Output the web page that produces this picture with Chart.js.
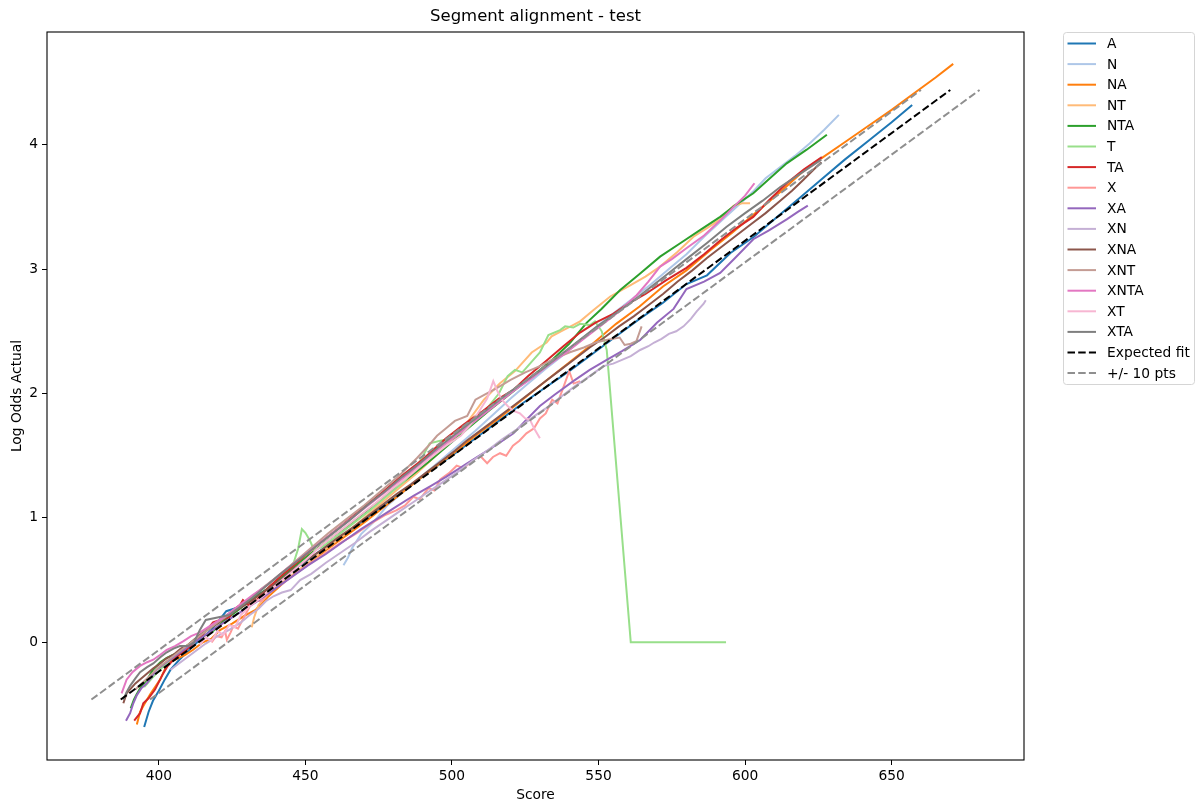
<!DOCTYPE html>
<html>
<head>
<meta charset="utf-8">
<script src="https://cdn.jsdelivr.net/npm/chart.js"></script>
<style>
  html, body { margin: 0; padding: 0; background: #fff; }
  #wrap { width: 1200px; height: 807px; }
</style>
</head>
<body>
<div id="wrap"><canvas id="segChart" width="1200" height="807"></canvas></div>
<script>
// ---------------------------- data ---------------------------- //
const xTicks = [400, 450, 500, 550, 600, 650];
const yTicks = [0, 1, 2, 3, 4];

const seriesNames = ['A', 'N', 'NA', 'NT', 'NTA', 'T', 'TA', 'X', 'XA', 'XN', 'XNA', 'XNT', 'XNTA', 'XT', 'XTA'];

// [score, log odds]
const A = [[395,-0.68],[396.5,-0.56],[398,-0.47],[400,-0.39],[402,-0.30],[404,-0.22],[407,-0.14],[410,-0.07],[414,0.02],[418,0.10],[423,0.25],[427,0.28],[432,0.36],[438,0.44],[444,0.55],[450,0.65],[457,0.77],[464,0.88],[471,1.00],[478,1.12],[485,1.24],[492,1.37],[500,1.50],[508,1.64],[516,1.78],[524,1.92],[532,2.05],[540,2.18],[548,2.32],[556,2.46],[564,2.60],[572,2.73],[580,2.88],[587,2.95],[595,3.13],[603,3.26],[611,3.42],[618,3.56],[626,3.72],[634,3.88],[642,4.03],[650,4.18],[657,4.32]];
const N = [[463,0.62],[464.5,0.68],[466,0.76],[469,0.87],[473,0.96],[478,1.10],[484,1.22],[490,1.34],[496,1.46],[502,1.58],[508,1.70],[514,1.83],[520,1.96],[526,2.08],[532,2.20],[538,2.31],[544,2.43],[550,2.55],[556,2.66],[562,2.77],[568,2.88],[574,3.00],[580,3.12],[586,3.26],[592,3.39],[598,3.52],[603,3.63],[607,3.73],[612,3.82],[617,3.91],[622,4.01],[627,4.12],[632,4.24]];
const NA = [[392.5,-0.66],[393.6,-0.56],[395,-0.50],[397,-0.42],[399,-0.35],[400.4,-0.30],[402,-0.22],[403.8,-0.16],[405.5,-0.14],[407.2,-0.12],[409,-0.10],[411.7,-0.06],[415,0.00],[418,0.03],[421,0.10],[425,0.15],[429,0.21],[433,0.26],[437,0.36],[443.6,0.50],[450,0.61],[457,0.74],[464,0.86],[471,0.98],[478,1.11],[485,1.24],[492,1.37],[500,1.51],[508,1.66],[516,1.80],[524,1.95],[532,2.10],[540,2.25],[548,2.40],[556,2.56],[564,2.70],[572,2.86],[580,2.99],[588,3.15],[596,3.30],[604,3.46],[612,3.62],[620,3.79],[626,3.89],[634,4.02],[642,4.15],[650,4.28],[658,4.42],[665,4.54],[671,4.65]];
const NT = [[431.7,0.12],[432.5,0.20],[434,0.30],[437,0.38],[441,0.46],[446,0.55],[452,0.66],[458,0.77],[464,0.88],[470,1.00],[476,1.12],[482,1.24],[488,1.36],[494,1.49],[500,1.62],[505,1.76],[510.9,1.95],[516.3,2.08],[521.5,2.18],[527.2,2.33],[532.3,2.41],[534,2.46],[538,2.51],[541.3,2.55],[543.7,2.58],[548.2,2.67],[554,2.78],[560.8,2.87],[566,2.94],[571,3.02],[577,3.14],[582.4,3.26],[587,3.33],[591.5,3.40],[596.1,3.51],[599,3.53],[601.7,3.53]];
const NTA = [[390.4,-0.53],[391.5,-0.46],[392.4,-0.42],[394.1,-0.35],[396,-0.30],[398,-0.22],[400.5,-0.16],[402.7,-0.125],[405,-0.10],[407.2,-0.08],[410,-0.03],[412.9,0.02],[415.5,0.05],[418.5,0.09],[422,0.17],[426,0.24],[431,0.33],[437,0.43],[443,0.55],[450,0.68],[457,0.81],[464,0.93],[471,1.06],[478,1.19],[485,1.32],[492,1.45],[499,1.59],[506,1.73],[513,1.87],[520,2.00],[527,2.13],[534.6,2.28],[540,2.40],[546,2.57],[551,2.68],[557.3,2.83],[564,2.96],[571,3.10],[578,3.21],[585,3.32],[591.5,3.42],[597,3.52],[602.8,3.61],[608,3.72],[614.2,3.85],[621,3.96],[627.9,4.08]];
const T = [[395,-0.36],[398,-0.28],[402,-0.18],[406,-0.10],[410,-0.02],[415,0.08],[420,0.16],[426,0.27],[432,0.37],[438,0.48],[443,0.57],[446,0.64],[447.5,0.75],[448.8,0.91],[450,0.88],[451.5,0.82],[453,0.74],[456,0.77],[460,0.84],[466,0.95],[472,1.06],[478,1.18],[484,1.30],[489,1.45],[492.4,1.60],[496,1.62],[500,1.64],[504,1.70],[508,1.78],[512,1.88],[516,2.00],[519,2.14],[521.5,2.19],[524,2.17],[527,2.25],[530,2.33],[532.9,2.47],[536.9,2.51],[538.6,2.54],[541.4,2.53],[543.7,2.56],[547.1,2.55],[548.8,2.58],[551.1,2.50],[552.8,2.35],[561,0.0],[570,0.0],[582,0.0],[593.5,0.0]];
const TA = [[391.6,-0.63],[393.6,-0.57],[394.7,-0.49],[396.5,-0.45],[398.7,-0.38],[401.5,-0.25],[403,-0.19],[405,-0.14],[407,-0.10],[409.5,-0.06],[412,0.00],[415,0.06],[418.5,0.16],[421,0.18],[424,0.20],[426,0.27],[427.7,0.30],[428.7,0.34],[430.5,0.30],[433,0.33],[437,0.43],[442,0.54],[448,0.66],[455,0.80],[462,0.93],[469,1.07],[476,1.20],[483,1.34],[490,1.47],[498,1.64],[504,1.75],[510,1.85],[516,1.96],[521,2.03],[526,2.14],[532,2.26],[538,2.38],[543.7,2.49],[549,2.57],[555,2.64],[560,2.72],[566,2.80],[573,2.91],[580,3.01],[586,3.12],[591.5,3.23],[597,3.33],[602.8,3.42],[608,3.55],[614.2,3.69],[620,3.80],[626.2,3.90]];
const X = [[418,0.00],[419.5,0.05],[421.4,0.04],[422.6,0.09],[423.2,0.02],[424.5,0.08],[425.4,0.13],[427,0.11],[429,0.20],[432.2,0.34],[435,0.33],[438,0.41],[442,0.47],[447,0.56],[452,0.64],[457,0.72],[462,0.80],[467,0.87],[472,0.95],[477,1.02],[481,1.06],[484,1.10],[486.8,1.17],[489,1.15],[492,1.24],[494,1.22],[496,1.31],[499,1.36],[501.6,1.42],[504,1.40],[507,1.46],[509.6,1.50],[512,1.44],[514,1.49],[516.4,1.52],[518.5,1.50],[520.8,1.58],[523,1.62],[525.4,1.68],[528,1.72],[530,1.80],[532,1.84],[534.2,1.95],[536,1.92],[538,2.05],[540,2.18],[541.5,2.08],[543.7,2.10]];
const XA = [[388.8,-0.63],[390.2,-0.57],[391.3,-0.49],[392.4,-0.43],[394,-0.37],[395.9,-0.33],[397.5,-0.28],[399.3,-0.22],[402,-0.17],[405,-0.12],[408,-0.07],[412,0.00],[416,0.06],[421,0.14],[427.7,0.24],[433,0.32],[439,0.42],[445,0.52],[451,0.62],[457,0.71],[463,0.81],[469,0.91],[475,1.00],[481,1.09],[487,1.18],[493,1.26],[498,1.33],[504,1.42],[508,1.48],[512,1.54],[516,1.60],[521,1.68],[525,1.78],[530,1.90],[535,1.99],[541.4,2.10],[547,2.19],[552.8,2.27],[558,2.34],[564.2,2.43],[570,2.57],[575.6,2.68],[580,2.84],[586,2.90],[591.5,2.97],[597,3.10],[602.8,3.24],[608,3.31],[614.2,3.40],[618,3.46],[621.4,3.51]];
const XN = [[404,-0.22],[408,-0.15],[412,-0.08],[416,-0.01],[420,0.05],[424,0.10],[428,0.16],[431,0.22],[434,0.27],[436.5,0.33],[439.1,0.37],[442,0.40],[445,0.42],[448.2,0.50],[452,0.55],[457,0.64],[462,0.72],[467,0.80],[472,0.89],[477,0.97],[482,1.05],[487,1.13],[492,1.21],[497,1.29],[502,1.37],[507,1.46],[512,1.54],[517,1.63],[522,1.71],[527,1.80],[532,1.88],[537,1.97],[542,2.06],[547,2.14],[551.6,2.22],[555,2.24],[558,2.27],[561,2.30],[564.2,2.35],[567,2.38],[569,2.41],[571.5,2.44],[574,2.48],[576.5,2.50],[579,2.54],[581.5,2.60],[583.5,2.66],[585.8,2.72],[586.6,2.75]];
const XNA = [[387.9,-0.49],[389,-0.41],[390.5,-0.37],[392,-0.33],[394,-0.29],[396,-0.25],[398,-0.21],[400,-0.18],[402.5,-0.13],[405,-0.10],[407.5,-0.05],[410,-0.02],[413,0.04],[416,0.09],[420,0.15],[424,0.22],[428,0.28],[432,0.34],[436,0.41],[441,0.49],[446,0.59],[451,0.67],[456,0.75],[461,0.84],[466,0.92],[471,1.01],[476,1.10],[481,1.19],[486,1.27],[491,1.36],[496,1.45],[501,1.54],[505,1.62],[509,1.69],[513,1.76],[518,1.85],[522,1.92],[527,2.01],[532,2.10],[537,2.19],[542,2.28],[547,2.37],[552,2.45],[557,2.54],[562,2.62],[567,2.71],[572,2.80],[577,2.90],[582,2.99],[587,3.09],[592,3.18],[597,3.27],[602,3.36],[607,3.45],[612,3.55],[616,3.63],[620,3.72],[623,3.79],[626,3.86]];
const XNT = [[392,-0.38],[396,-0.29],[400,-0.20],[405,-0.11],[410,-0.02],[415,0.07],[420,0.16],[425,0.24],[430,0.33],[435,0.43],[440,0.52],[446,0.64],[452,0.76],[458,0.88],[464,0.99],[470,1.10],[476,1.22],[482,1.34],[488,1.48],[492,1.58],[494.9,1.66],[498,1.72],[501,1.78],[505.2,1.82],[508,1.95],[511,1.99],[515,2.04],[520,2.11],[525,2.17],[530,2.22],[535,2.28],[540,2.33],[545,2.37],[549,2.41],[552.7,2.43],[557.2,2.45],[558.9,2.39],[561,2.40],[562.9,2.42],[564.7,2.54]];
const XNTA = [[387.3,-0.41],[389,-0.30],[391,-0.24],[393.6,-0.19],[396,-0.16],[398.1,-0.14],[400.5,-0.10],[402.7,-0.06],[405.5,-0.03],[408.4,0.01],[411,0.05],[414.1,0.08],[418,0.14],[422,0.20],[427,0.29],[432,0.38],[437,0.46],[443,0.58],[449,0.69],[455,0.80],[461,0.91],[467,1.02],[473,1.13],[479,1.24],[485,1.35],[491,1.47],[497,1.58],[503,1.69],[509,1.80],[515,1.91],[521,2.02],[527,2.12],[533,2.23],[539,2.33],[545,2.44],[551,2.55],[557,2.66],[563,2.79],[567,2.90],[571,3.02],[575,3.08],[580.1,3.17],[586,3.27],[591.5,3.39],[596.1,3.50],[600,3.59],[603.2,3.69]];
const XT = [[414,-0.02],[416,0.04],[418,0.01],[420,0.09],[422,0.06],[424,0.14],[426,0.12],[428,0.22],[431,0.29],[435,0.36],[440,0.46],[445,0.56],[450,0.66],[456,0.79],[462,0.90],[468,1.01],[474,1.12],[480,1.24],[486,1.35],[492,1.47],[498,1.58],[503,1.66],[506,1.74],[509.6,1.87],[512,1.96],[514.1,2.10],[515.5,2.02],[517,1.95],[519,1.90],[521,1.86],[523.2,1.84],[525,1.80],[526.6,1.79],[528,1.72],[530,1.64]];
const XTA = [[387.9,-0.46],[389,-0.40],[390.2,-0.35],[392,-0.29],[393.6,-0.24],[396,-0.20],[398.1,-0.17],[400.5,-0.12],[402.7,-0.08],[405,-0.05],[407.2,-0.03],[410,-0.03],[412,0.00],[414,0.10],[416,0.18],[420,0.20],[424,0.22],[428,0.29],[432,0.36],[436,0.44],[441,0.54],[447,0.65],[453,0.76],[459,0.87],[465,0.98],[471,1.10],[477,1.21],[483,1.33],[489,1.44],[495,1.56],[501,1.67],[507,1.78],[513,1.89],[519,2.00],[525,2.10],[531,2.20],[537,2.31],[543,2.42],[549,2.53],[555,2.63],[561,2.73],[567,2.84],[573,2.95],[580,3.08],[587,3.21],[593.7,3.34],[600,3.45],[606,3.55],[612,3.66],[619,3.77],[626,3.88]];

// reference lines
const fitLine = [[387, -0.46], [670, 4.44]];
const upperLine = [[377, -0.46], [660, 4.44]];
const lowerLine = [[397, -0.46], [680, 4.44]];

const seriesValues = [A, N, NA, NT, NTA, T, TA, X, XA, XN, XNA, XNT, XNTA, XT, XTA];

// tab20 palette
const seriesColors = ['#1f77b4', '#aec7e8', '#ff7f0e', '#ffbb78', '#2ca02c', '#98df8a', '#d62728',
    '#ff9896', '#9467bd', '#c5b0d5', '#8c564b', '#c49c94', '#e377c2', '#f7b6d2', '#7f7f7f'];

const FONT = '"DejaVu Sans", sans-serif';

// ---------------------------- datasets ---------------------------- //
const datasets = seriesValues.map((pts, i) => ({
    label: seriesNames[i],
    data: pts.map(p => ({ x: p[0], y: p[1] })),
    borderColor: seriesColors[i],
    borderWidth: 2,
    dash: []
}));
datasets.push({ label: 'Expected fit', data: fitLine.map(p => ({ x: p[0], y: p[1] })), borderColor: '#000000', borderWidth: 2, dash: [7.5, 3.2] });
datasets.push({ label: '+/- 10 pts', data: upperLine.map(p => ({ x: p[0], y: p[1] })), borderColor: '#8f8f8f', borderWidth: 2, dash: [7.5, 3.2] });
datasets.push({ label: '', data: lowerLine.map(p => ({ x: p[0], y: p[1] })), borderColor: '#8f8f8f', borderWidth: 2, dash: [7.5, 3.2] });

datasets.forEach((d, i) => {
    d.showLine = true;
    d.pointRadius = 0;
    d.borderDash = d.dash;
    d.tension = 0;
    d.fill = false;
    d.order = datasets.length - i; // later series on top, like matplotlib
});

// ---------------------------- frame, title, legend ---------------------------- //
const framePlugin = {
    id: 'framePlugin',
    afterDraw(chart) {
        const ctx = chart.ctx;
        const a = chart.chartArea;
        ctx.save();

        // axes box
        ctx.strokeStyle = '#000';
        ctx.lineWidth = 1.1;
        ctx.strokeRect(a.left, a.top, a.right - a.left, a.bottom - a.top);

        // title and axis labels
        ctx.fillStyle = '#000';
        ctx.textAlign = 'center';
        ctx.textBaseline = 'middle';
        ctx.font = '16.5px ' + FONT;
        ctx.fillText('Segment alignment - test', (a.left + a.right) / 2, 17);
        ctx.font = '13.8px ' + FONT;
        ctx.fillText('Score', (a.left + a.right) / 2, 795);
        ctx.save();
        ctx.translate(17, (a.top + a.bottom) / 2);
        ctx.rotate(-Math.PI / 2);
        ctx.fillText('Log Odds Actual', 0, 0);
        ctx.restore();

        // legend
        const lx = 1063.5, ly = 32.5, lw = 131, lh = 352;
        ctx.fillStyle = 'rgba(255,255,255,0.8)';
        ctx.strokeStyle = '#d5d5d5';
        ctx.lineWidth = 1;
        ctx.beginPath();
        ctx.roundRect(lx, ly, lw, lh, 3);
        ctx.fill();
        ctx.stroke();

        ctx.textAlign = 'left';
        ctx.font = '13.8px ' + FONT;
        const items = datasets.filter(d => d.label !== '');
        items.forEach((d, i) => {
            const y = 43.5 + i * 20.6;
            ctx.strokeStyle = d.borderColor;
            ctx.lineWidth = 2;
            ctx.setLineDash(d.dash);
            ctx.beginPath();
            ctx.moveTo(1067.5, y);
            ctx.lineTo(1096, y);
            ctx.stroke();
            ctx.setLineDash([]);
            ctx.fillStyle = '#000';
            ctx.fillText(d.label, 1107, y + 1);
        });
        ctx.restore();
    }
};

// ---------------------------- chart ---------------------------- //
const ctx = document.getElementById('segChart').getContext('2d');

const segChart = new Chart(ctx, {
    type: 'scatter',
    data: { datasets: datasets },
    options: {
        responsive: false,
        animation: false,
        layout: { padding: { left: 0, top: 32, right: 176, bottom: 0 } },
        plugins: {
            legend: { display: false },
            tooltip: { enabled: false },
            title: { display: false }
        },
        scales: {
            x: {
                type: 'linear',
                min: 361.85,
                max: 695.15,
                afterFit: s => { s.height = 47; },
                afterBuildTicks: s => { s.ticks = xTicks.map(v => ({ value: v })); },
                grid: { drawOnChartArea: false, drawTicks: true, tickLength: 5, color: '#000', tickColor: '#000' },
                border: { display: false },
                ticks: { color: '#000', padding: 3, maxRotation: 0, font: { family: FONT, size: 13.8 } }
            },
            y: {
                type: 'linear',
                min: -0.946,
                max: 4.906,
                afterFit: s => { s.width = 47; },
                afterBuildTicks: s => { s.ticks = yTicks.map(v => ({ value: v })); },
                grid: { drawOnChartArea: false, drawTicks: true, tickLength: 5, color: '#000', tickColor: '#000' },
                border: { display: false },
                ticks: { color: '#000', padding: 4, font: { family: FONT, size: 13.8 } }
            }
        }
    },
    plugins: [framePlugin]
});
</script>
</body>
</html>
